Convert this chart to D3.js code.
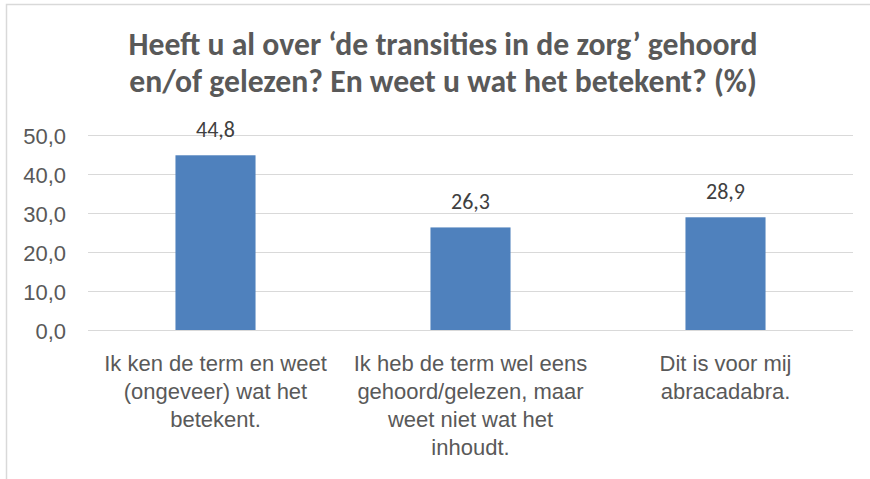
<!DOCTYPE html>
<html lang="nl">
<head>
    <meta charset="utf-8">
    <title>Transities in de zorg</title>
    <script src="https://d3js.org/d3.v7.min.js" charset="utf-8"></script>
    <style>
        body { margin: 0; background: #fff; }
        svg { display: block; font-family: Carlito, Lato, sans-serif; }
        .axis path, .axis line { display: none; }
        .axis text { fill: #595959; font-size: 22px; }
        .grid line { stroke: #d9d9d9; stroke-width: 1; shape-rendering: crispEdges; }
        .title { fill: #595959; font-size: 31.7px; font-weight: bold; }
        .value { fill: #404040; font-size: 22px; }
    </style>
</head>
<body>
<script>
    // data
    var titleLines = ["Heeft u al over \u2018de transities in de zorg\u2019 gehoord",
                      "en/of gelezen? En weet u wat het betekent? (%)"]
    var categories = ["Ik ken de term en weet\n(ongeveer) wat het\nbetekent.",
                      "Ik heb de term wel eens\ngehoord/gelezen, maar\nweet niet wat het\ninhoudt.",
                      "Dit is voor mij\nabracadabra."]
    var values = [44.8, 26.3, 28.9]
    var yTicks = [0, 10, 20, 30, 40, 50]

    var w = 870, h = 479
    var plotLeft = 88, plotRight = 853, plotTop = 135, plotBottom = 330

    var nl = d3.formatLocale({decimal: ",", thousands: ".", grouping: [3], currency: ["\u20ac", ""]})
    var fmt = nl.format(".1f")

    var svg = d3.select("body").append("svg").attr("width", w).attr("height", h)

    // chart area border (right and bottom edges fall outside the picture)
    svg.append("rect")
        .attr("x", 6.5).attr("y", 4.5).attr("width", 900).attr("height", 500)
        .attr("fill", "#fff").attr("stroke", "#d9d9d9").attr("stroke-width", 1.5)

    var x = d3.scaleBand().domain(categories).range([plotLeft, plotRight])
        .paddingInner(0.686).paddingOuter(0.343)
    var y = d3.scaleLinear().domain([0, 50]).range([plotBottom, plotTop])

    // gridlines
    svg.append("g").attr("class", "grid")
        .selectAll("line").data(yTicks).join("line")
        .attr("x1", plotLeft).attr("x2", plotRight)
        .attr("y1", function(d) { return Math.round(y(d)) + 0.5 })
        .attr("y2", function(d) { return Math.round(y(d)) + 0.5 })

    // y axis labels
    var yAxis = d3.axisLeft(y).tickValues(yTicks).tickFormat(fmt).tickSize(0).tickPadding(0)
    svg.append("g").attr("class", "axis")
        .attr("transform", "translate(66,0)")
        .call(yAxis)
        .selectAll("text").attr("dy", "0.38em")

    // bars
    svg.append("g").selectAll("rect").data(values).join("rect")
        .attr("x", function(d, i) { return x(categories[i]) })
        .attr("width", x.bandwidth())
        .attr("y", function(d) { return y(d) })
        .attr("height", function(d) { return y(0) - y(d) })
        .attr("fill", "#4f81bd")

    // value labels
    svg.append("g").selectAll("text").data(values).join("text")
        .attr("class", "value")
        .attr("x", function(d, i) { return x(categories[i]) + x.bandwidth() / 2 })
        .attr("y", function(d) { return y(d) - 18 })
        .attr("text-anchor", "middle")
        .text(function(d) { return fmt(d) })

    // x axis with wrapped category labels
    var xAxis = d3.axisBottom(x).tickSize(0).tickPadding(0).tickFormat("")
    var gx = svg.append("g").attr("class", "axis")
        .attr("transform", "translate(0," + plotBottom + ")")
        .call(xAxis)
    gx.selectAll(".tick text").each(function(d) {
        var t = d3.select(this).attr("y", 0).attr("dy", null)
        d.split("\n").forEach(function(line, i) {
            t.append("tspan").attr("x", 0).attr("y", 41 + i * 28).text(line)
        })
    })

    // title
    svg.append("text").attr("class", "title")
        .attr("text-anchor", "middle")
        .selectAll("tspan").data(titleLines).join("tspan")
        .attr("x", 443)
        .attr("y", function(d, i) { return 55 + i * 37 })
        .text(function(d) { return d })
</script>
</body>
</html>
